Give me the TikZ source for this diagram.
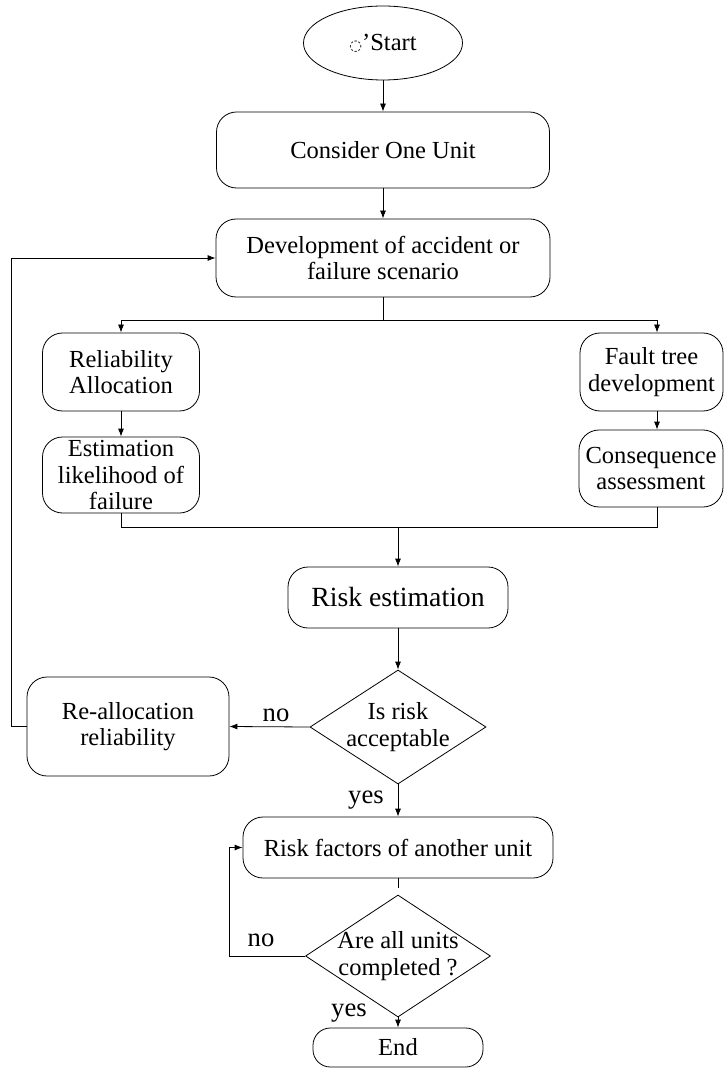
\documentclass[tikz,border=0pt]{standalone}
\usepackage{fontspec}
\setmainfont{Liberation Serif}
\newfontfamily\dejavu{DejaVu Sans}
\usetikzlibrary{shapes.geometric,arrows.meta}
\begin{document}
\begin{tikzpicture}[x=0.75pt,y=-0.75pt,
  line width=0.6pt,
  every node/.style={font=\fontsize{18.4}{19.8}\selectfont},
  box/.style={draw,rectangle,rounded corners=15pt,align=center,inner sep=0pt},
  dia/.style={draw,diamond,inner sep=0pt},
  lbl/.style={font=\fontsize{20}{22}\selectfont,inner sep=0pt},
  arr/.style={-{Latex[length=6pt,width=4.5pt]}}]
\useasboundingbox (0,0) rectangle (724,1069);

\node[draw,ellipse,inner sep=0pt,minimum width=119.25pt,minimum height=55.5pt] (start) at (383,43)
  {{\dejavu\fontsize{11}{12}\selectfont ◌}’Start};
\node[box,minimum width=249.75pt,minimum height=57pt] (consider) at (383,150) {Consider One Unit};
\node[box,minimum width=250.5pt,minimum height=58.5pt] (dev) at (383,258) {Development of accident or\\failure scenario};
\node[box,minimum width=117.75pt,minimum height=58.5pt] (rel) at (121,372) {Reliability\\Allocation};
\node[box,minimum width=117.75pt,minimum height=57pt] (est) at (121,475) {Estimation\\likelihood of\\failure};
\node[box,minimum width=107.25pt,minimum height=58.5pt] (fault) at (651.5,372) {Fault tree\\development};
\node[box,minimum width=108pt,minimum height=57.75pt] (cons) at (651,468.5) {Consequence\\assessment};
\node[box,minimum width=165pt,minimum height=45.75pt,font=\fontsize{20.8}{22}\selectfont] (risk) at (398,597.5) {Risk estimation};
\node[dia,minimum width=132pt,minimum height=85.5pt,label={[align=center]center:Is risk\\acceptable}] (q1) at (398,727) {};
\node[box,minimum width=151.5pt,minimum height=74.25pt] (realloc) at (128,726.5) {Re-allocation\\reliability};
\node[box,minimum width=232.5pt,minimum height=45.75pt] (rf) at (398,847.5) {Risk factors of another unit};
\node[dia,minimum width=138.75pt,minimum height=91.5pt,label={[align=center]center:Are all units\\completed ?}] (q2) at (398,956) {};
\node[box,rounded corners=13pt,minimum width=127.5pt,minimum height=29.25pt] (end) at (398,1047.5) {End};

\coordinate (sl) at (121,320);
\coordinate (sr) at (657,320);
\coordinate (jl) at (121,527);
\coordinate (jr) at (657,527);
\coordinate (jm) at (398,527);

\draw[arr] (start.south) -- (consider.north);
\draw[arr] (consider.south) -- (dev.north);
\draw (dev.south) -- (dev.south |- sl);
\draw (sl) -- (sr);
\draw[arr] (sl) -- (rel.north);
\draw[arr] (sr) -- (sr |- fault.north);
\draw[arr] (rel.south) -- (est.north);
\draw[arr] (fault.south -| sr) -- (cons.north -| sr);
\draw (est.south) -- (jl) -- (jr) -- (jr |- cons.south);
\draw[arr] (jm) -- (risk.north);
\draw[arr] (risk.south) -- (q1.north);
\draw[arr] (q1.west) -- (realloc.east);
\draw[arr] (realloc.west) -- ++(-15,0) |- (dev.west);
\draw[arr] (q1.south) -- (rf.north);
\draw[shorten >=5pt] (rf.south) -- (q2.north);
\draw[arr] (q2.west) -- ++(-76,0) |- (rf.west);
\draw[arr] (q2.south) -- (end.north);

\node[lbl] (no1) at (276,715) {no};
\node[lbl] (yes1) at (366,800) {yes};
\node[lbl] (no2) at (261,940) {no};
\node[lbl] (yes2) at (349,1013) {yes};
\end{tikzpicture}
\end{document}
